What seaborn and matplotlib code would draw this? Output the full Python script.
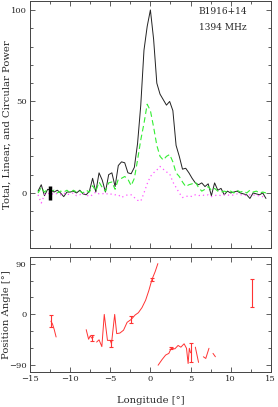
import numpy as np
import pandas as pd
import seaborn as sns
import matplotlib.pyplot as plt
from matplotlib.ticker import MultipleLocator

# pulse longitude grid (deg)
lon = [-14.0, -13.6, -13.2, -12.8, -12.4, -12.0, -11.6, -11.2, -10.8, -10.4,
       -10.0, -9.6, -9.2, -8.8, -8.4, -8.0, -7.6, -7.2, -6.8, -6.4,
       -6.0, -5.6, -5.2, -4.8, -4.4, -4.0, -3.6, -3.2, -2.8, -2.4,
       -2.0, -1.6, -1.2, -0.8, -0.4, 0.0, 0.4, 0.8, 1.2, 1.6,
       2.0, 2.4, 2.8, 3.2, 3.6, 4.0, 4.4, 4.8, 5.2, 5.6,
       6.0, 6.4, 6.8, 7.2, 7.6, 8.0, 8.4, 8.8, 9.2, 9.6,
       10.0, 10.4, 10.8, 11.2, 11.6, 12.0, 12.4, 12.8, 13.2, 13.6,
       14.0, 14.4]

total = [1, 4.5, -1.5, 2, 1.5, 0.5, 1.5, 0, -2, 0.5,
         0.5, 1, 0, 1.5, -0.5, -1, 1, 8, 0.5, 11,
         7, 0.5, 10, 11, 3.5, 15, 17, 16.5, 11, 10.5,
         14, 27, 48, 78, 91, 100, 84, 60, 54, 51,
         48, 50, 45, 26, 20, 13, 13.5, 11, 8, 5.5,
         4.5, 5.5, 3.5, 5, -1.5, 5.5, 1.5, 2.5, -1, 1,
         0, 0.5, 1, 0, -0.5, -1, -3, 0, -0.5, -1,
         0, -3]

linear = [0, 3, 0.5, 2, 1, 1.5, 0, 1, 0.5, 1.5,
          0, 1.5, 0.5, 1, 0, 1.5, 0.5, 4, 1, 6,
          3, 1, 5.5, 6, 2, 7.5, 8, 9, 7.5, 4,
          8, 18, 29, 38, 48.5, 45, 36, 26, 20, 18,
          20, 21, 17, 11, 9, 6, 3.5, 4.5, 5, 6,
          3, 1, 2, 3.5, 1.5, 2.5, 1, 0.5, 1, 0.5,
          1, 0, 1.5, 0.5, 1, 0, 1.5, 0.5, 1, 0,
          0.5, 0]

circular = [-1, -5.5, -1, 0, -1, 0, -0.5, -1, 0, -1,
            -0.5, 0, -1.5, -1, 0, -1, -2, -1, 0.5, -0.5,
            -0.5, 0, -1, -0.5, -1, -1, -2.5, -1.5, -1, -1,
            -2.5, -4, -4.5, 0, 5, 9, 11, 12.5, 14.5, 13,
            11.5, 10.5, 6, 3, 0, -2.5, -2, -1.5, -2, -1,
            -1.5, -1, -1.5, -1, -2, -1.5, -1, -1.5, -1, -1,
            -1.5, -1, -0.5, -1, -1, -1.5, -1, -1, -1.5, -1.5,
            -2, -2.5]

# position angle segments
pa_seg = ['a'] * 4 + ['b'] * 5 + ['c'] * 21 + ['d'] * 13 + ['e'] * 2 + ['f'] * 3 + ['g'] * 2 + ['h']
pa_lon = [-12.4, -12.2, -12.0, -11.75,
          -8.0, -7.7, -7.5, -7.3, -7.1,
          -6.7, -6.4, -6.05, -5.75, -5.35, -5.0, -4.85, -4.45, -4.2, -3.8,
          -3.35, -2.9, -2.4, -1.9, -1.5, -1.05, -0.6, -0.2, 0.2, 0.6, 0.93,
          0.96, 1.45, 1.9, 2.3, 2.6, 3.05, 3.45, 3.8, 4.2, 4.5, 4.7, 4.85, 5.0,
          5.6, 6.0,
          6.6, 6.9, 7.3,
          7.8, 8.1,
          12.7]
pa_deg = [-12, -17, -26, -40,
          -27, -44, -38, -42, -40,
          -49, -45, -57, 0, -46, -46, -52, 0, -34, -33,
          -28, -14, -9, -1, 3, 12, 25, 42, 62, 76, 90,
          -90, -80, -72, -69, -60, -61, -55, -58, -52, -60, -87, -60, -68,
          -58, -85,
          -75, -78, -60,
          -69, -75,
          38]
pa_err = [11, 0, 0, 0,
          0, 0, 0, 5, 0,
          0, 0, 0, 0, 0, 0, 6, 0, 0, 0,
          0, 0, 6, 0, 0, 0, 0, 0, 2, 0, 0,
          0, 0, 0, 0, 2, 0, 0, 0, 0, 0, 0, 0, 17,
          0, 0,
          0, 0, 0,
          0, 0,
          24]

prof = pd.DataFrame({'lon': lon, 'total': total, 'linear': linear, 'circular': circular})
pa = pd.DataFrame({'lon': pa_lon, 'pa': pa_deg, 'err': pa_err, 'seg': pa_seg})

sns.set_style('ticks')
plt.rcParams['font.family'] = ['DejaVu Serif']

fig = plt.figure(figsize=(2.78, 4.07), dpi=100)
ax1 = fig.add_axes([0.108, 0.391, 0.866, 0.607])
ax2 = fig.add_axes([0.108, 0.086, 0.866, 0.283])

sns.lineplot(data=prof, x='lon', y='total', ax=ax1, color='#222222', lw=0.7, estimator=None, sort=False)
sns.lineplot(data=prof, x='lon', y='linear', ax=ax1, color='#33ee33', lw=0.8, estimator=None, sort=False)
ax1.lines[-1].set_dashes((5, 3))
sns.lineplot(data=prof, x='lon', y='circular', ax=ax1, color='#ff55ff', lw=0.9, estimator=None, sort=False)
ax1.lines[-1].set_dashes((1, 2.5))
ax1.errorbar([-12.5], [0], yerr=[4], fmt='none', ecolor='black', elinewidth=2.5, capsize=0)

ax1.set_xlim(-15, 15)
ax1.set_ylim(-30, 105)
ax1.set_xlabel('')
ax1.set_ylabel('Total, Linear, and Circular Power', fontsize=7.2)
ax1.yaxis.set_label_coords(-0.078, 0.5)
ax1.set_xticklabels([])
ax1.yaxis.set_major_locator(MultipleLocator(50))
ax1.yaxis.set_minor_locator(MultipleLocator(10))
ax1.text(0.70, 0.955, 'B1916+14', transform=ax1.transAxes, fontsize=6.5, ha='left', va='center')
ax1.text(0.70, 0.89, '1394 MHz', transform=ax1.transAxes, fontsize=6.5, ha='left', va='center')

sns.lineplot(data=pa, x='lon', y='pa', units='seg', estimator=None, ax=ax2, color='#ff3333', lw=0.7, sort=False)
ep = pa[pa['err'] > 0]
ax2.errorbar(ep['lon'], ep['pa'], yerr=ep['err'], fmt='none', ecolor='#ff3333', elinewidth=0.8, capsize=1.2,
             capthick=0.8)
ax2.set_xlim(-15, 15)
ax2.set_ylim(-102, 102)
ax2.set_yticks([-90, 0, 90])
ax2.yaxis.set_minor_locator(MultipleLocator(30))
ax2.set_xlabel('Longitude [°]', fontsize=7.2, labelpad=9)
ax2.set_ylabel('Position Angle [°]', fontsize=7.2)
ax2.yaxis.set_label_coords(-0.078, 0.5)

for ax in (ax1, ax2):
    ax.xaxis.set_major_locator(MultipleLocator(5))
    ax.xaxis.set_minor_locator(MultipleLocator(2.5))
    ax.tick_params(which='both', direction='in', top=True, right=True, labelsize=6, width=0.6, color='#444444',
                   pad=2.5)
    ax.tick_params(which='major', length=3.5)
    ax.tick_params(which='minor', length=2)
    for s in ax.spines.values():
        s.set_linewidth(0.7)
        s.set_color('#444444')

fig.savefig('out.png', dpi=100)
